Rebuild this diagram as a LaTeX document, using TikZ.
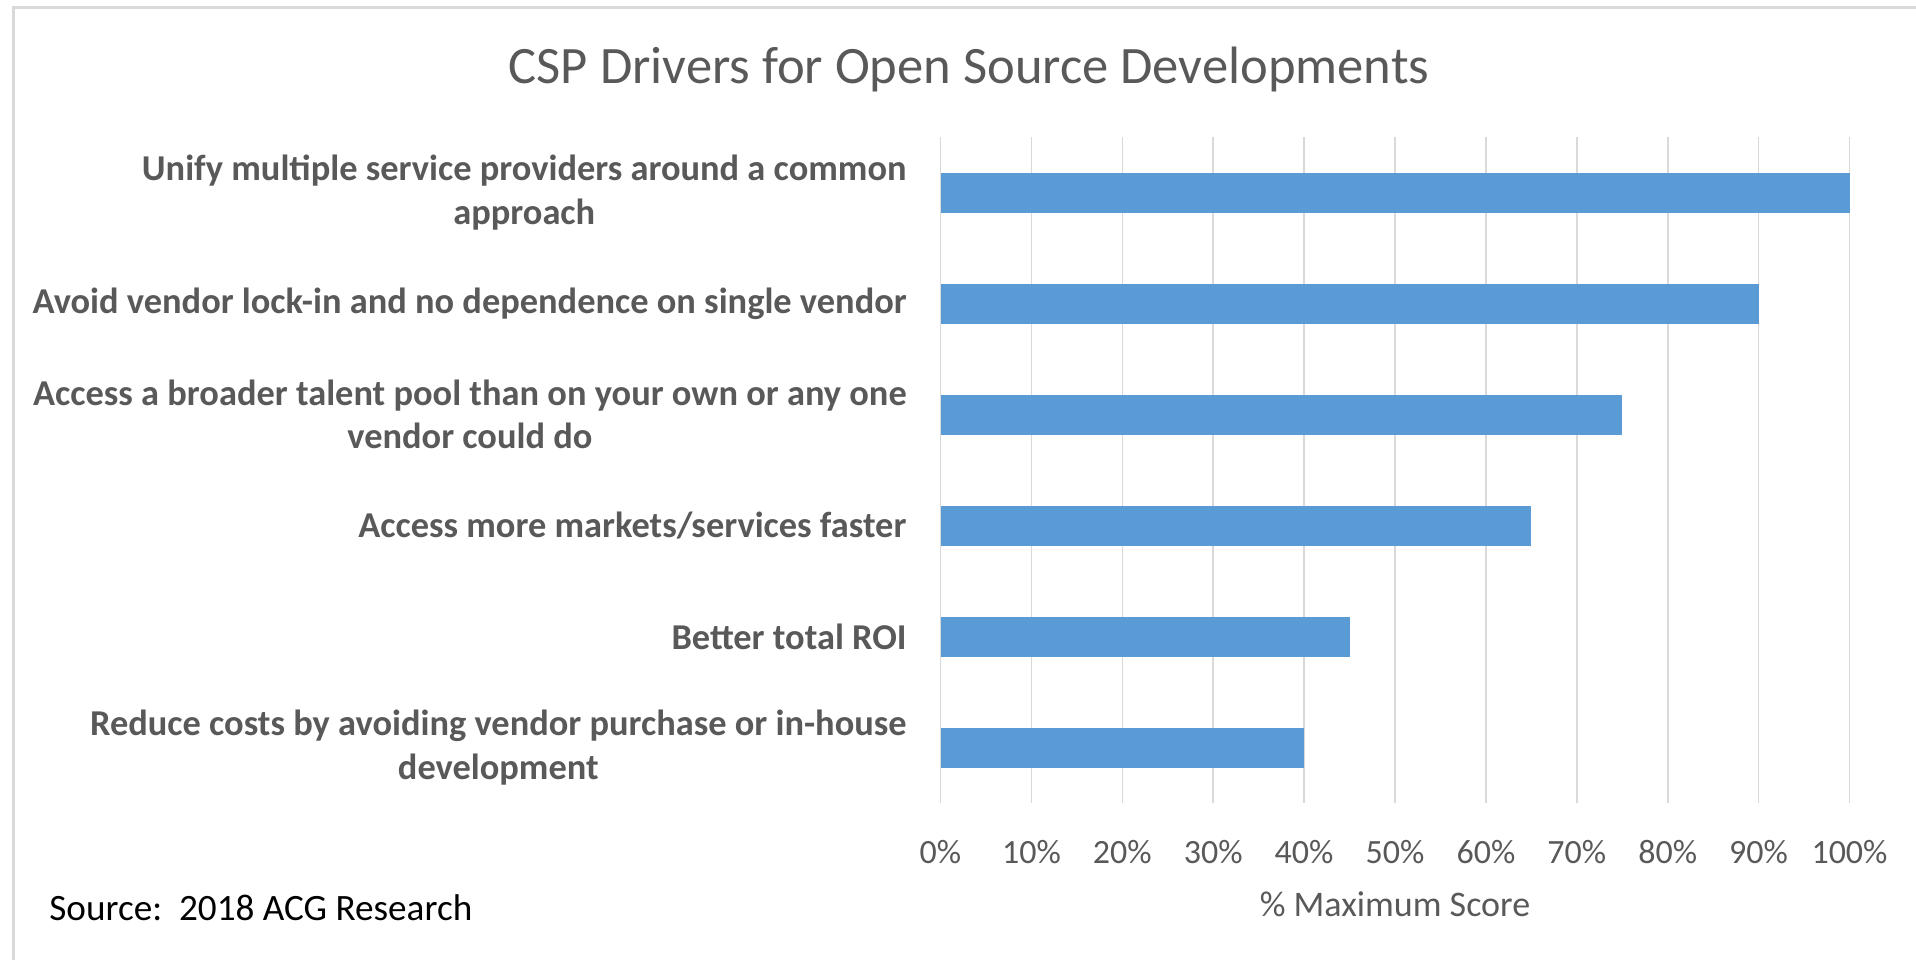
\documentclass[tikz,border=0pt]{standalone}
\usepackage{fontspec}
\setmainfont{Carlito}
\usepackage{xcolor}
\usetikzlibrary{positioning}
\definecolor{barblue}{HTML}{5B9BD5}
\definecolor{gridgray}{HTML}{D9D9D9}
\definecolor{textgray}{HTML}{595959}

\begin{document}
\begin{tikzpicture}[x=0.5pt,y=-0.5pt,
                every node/.append style = {inner sep=0pt, text=textgray},
                catlabel/.style = {anchor=east, align=center, font=\fontsize{18.2}{21.7}\selectfont\bfseries},
                ticklabel/.style = {font=\fontsize{17}{20}\selectfont},
                gridline/.style = {draw=gridgray, line width=0.8pt}]
            \useasboundingbox (0,0) rectangle (1916,960);
            % frame
            \draw[gridgray, line width=1.5pt] (13,960) -- (13,7) -- (1916,7);
            \node[font=\fontsize{26.3}{30}\selectfont] (title) at (969,69) {CSP Drivers for Open Source Developments};
            % grid and ticks
            \foreach \p in {0,10,...,100} {
                \draw[gridline] (940.5+9.09*\p,137) -- (940.5+9.09*\p,803);
                \node[ticklabel] (t\p) at (940.5+9.09*\p,852) {\p\%};
            }
            % bars
            \foreach \v [count=\i from 0] in {100,90,75,65,45,40}
                \fill[barblue] (940.5,172.5+111*\i) rectangle (940.5+9.09*\v,212.5+111*\i);
            \node[catlabel] (c1) at (907,192.5) {Unify multiple service providers around a common\\approach};
            \node[catlabel] (c2) at (907,303.5) {Avoid vendor lock-in and no dependence on single vendor};
            \node[catlabel] (c3) at (907,414.5) {Access a broader talent pool than on your own or any one\\vendor could do};
            \node[catlabel] (c4) at (907,525.5) {Access more markets/services faster};
            \node[catlabel] (c5) at (907,636.5) {Better total ROI};
            \node[catlabel] (c6) at (907,747.5) {Reduce costs by avoiding vendor purchase or in-house\\development};
            \node[font=\fontsize{18}{21}\selectfont] (xtitle) at (1395,904) {\% Maximum Score};
            \node[anchor=west, text=black, font=\fontsize{18.6}{22}\selectfont] (source) at (49,908) {Source:\ \ 2018 ACG Research};
\end{tikzpicture}
\end{document}
